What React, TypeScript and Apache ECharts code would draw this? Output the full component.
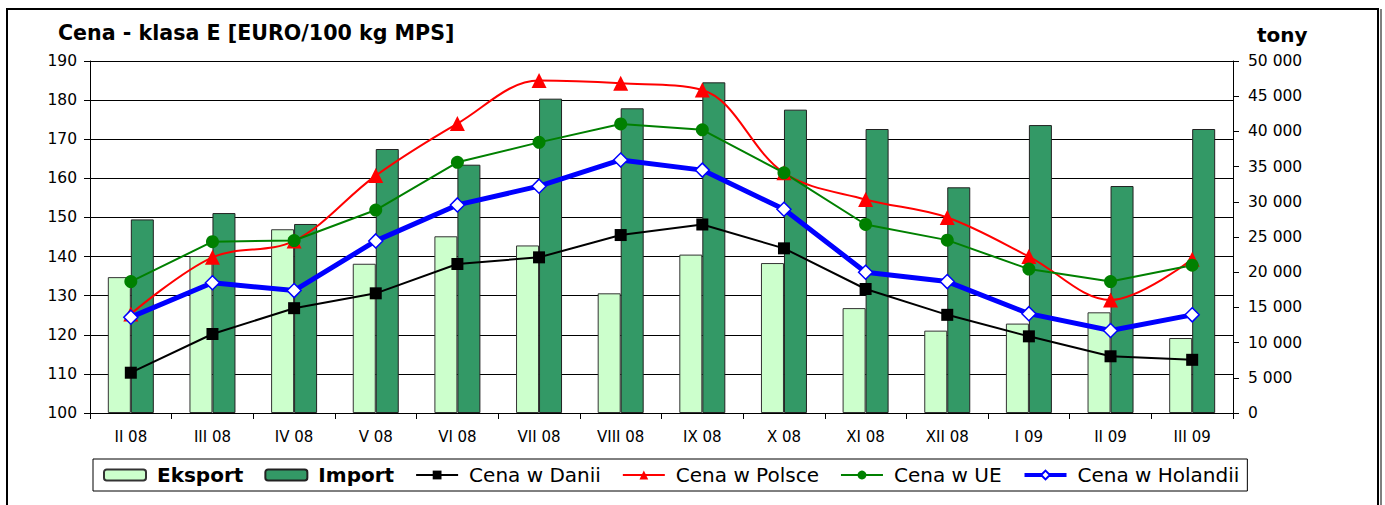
import React, { useEffect, useRef } from "react";
import * as echarts from "echarts";

const categories = ["II 08", "III 08", "IV 08", "V 08", "VI 08", "VII 08", "VIII 08", "IX 08", "X 08", "XI 08", "XII 08", "I 09", "II 09", "III 09"];
const eksport = [19300, 22300, 26100, 21200, 25100, 23800, 17000, 22500, 21300, 14900, 11700, 12700, 14300, 10650];
const importData = [27500, 28400, 26850, 37500, 35270, 44650, 43280, 46970, 43090, 40340, 32060, 40900, 32240, 40340];
const cenaDanii = [110.3, 120.2, 126.8, 130.6, 138.1, 139.8, 145.5, 148.2, 142.1, 131.7, 125.1, 119.6, 114.5, 113.6];
const cenaPolsce = [125.3, 139.8, 144.0, 160.7, 174.0, 185.0, 184.3, 182.6, 161.4, 154.6, 150.0, 140.0, 128.9, 139.3];
const cenaUE = [133.6, 143.8, 144.1, 151.9, 164.1, 169.2, 173.9, 172.4, 161.4, 148.2, 144.2, 136.8, 133.6, 137.8];
const cenaHolandii = [124.5, 133.3, 131.3, 144.0, 153.2, 158.0, 164.7, 162.1, 152.1, 136.0, 133.6, 125.4, 121.1, 125.1];

const FONT = "DejaVu Sans";

export default function App() {
  const ref = useRef<HTMLDivElement>(null);
  useEffect(() => {
    if (!ref.current) return;
    const chart = echarts.init(ref.current, undefined, { renderer: "svg" });
    const fmt = (v: number) => String(v).replace(/\B(?=(\d{3})+(?!\d))/g, " ");
    chart.setOption({
      animation: false,
      backgroundColor: "#fff",
      title: {
        text: "Cena - klasa E [EURO/100 kg MPS]",
        left: 58,
        top: 22,
        padding: 0,
        textStyle: { fontFamily: FONT, fontSize: 20.6, fontWeight: "bold", color: "#000" },
      },
      graphic: [
        { type: "rect", shape: { x: 7, y: 9, width: 1371, height: 520 }, style: { fill: "none", stroke: "#000", lineWidth: 2 }, silent: true },
        { type: "line", shape: { x1: 1381, y1: 9, x2: 1381, y2: 505 }, style: { stroke: "#000", lineWidth: 1 }, silent: true },
        { type: "text", left: 1257, top: 25, style: { text: "tony", fontFamily: FONT, fontSize: 20, fontWeight: "bold", fill: "#000" } },
      ],
      legend: {
        left: 93,
        top: 459,
        padding: [6, 8, 6, 10],
        borderColor: "#000",
        borderWidth: 1,
        itemWidth: 42,
        itemHeight: 11,
        itemGap: 21,
        textStyle: { fontFamily: FONT, fontSize: 20, color: "#000", padding: [0, 0, 0, 6] },
        data: [
          { name: "Eksport", textStyle: { fontWeight: "bold" } },
          { name: "Import", textStyle: { fontWeight: "bold" } },
          { name: "Cena w Danii", lineStyle: { width: 2 } },
          { name: "Cena w Polsce", lineStyle: { width: 2 } },
          { name: "Cena w UE", lineStyle: { width: 2 } },
          { name: "Cena w Holandii", lineStyle: { width: 4 } },
        ],
      },
      grid: { left: 90, right: 152, top: 61, bottom: 92, containLabel: false },
      xAxis: {
        type: "category",
        data: categories,
        boundaryGap: true,
        axisLine: { lineStyle: { color: "#000", width: 1 } },
        axisTick: { show: true, length: 6, lineStyle: { color: "#000" } },
        axisLabel: { fontFamily: FONT, fontSize: 15, color: "#000", margin: 16 },
      },
      yAxis: [
        {
          type: "value",
          min: 100,
          max: 190,
          interval: 10,
          position: "left",
          axisLine: { show: true, lineStyle: { color: "#000", width: 1 } },
          axisTick: { show: true, length: 6, lineStyle: { color: "#000" } },
          axisLabel: { fontFamily: FONT, fontSize: 15.5, color: "#000", margin: 13 },
          splitLine: { show: true, lineStyle: { color: "#000", width: 1 } },
        },
        {
          type: "value",
          min: 0,
          max: 50000,
          interval: 5000,
          position: "right",
          axisLine: { show: true, lineStyle: { color: "#000", width: 1 } },
          axisTick: { show: true, length: 6, lineStyle: { color: "#000" } },
          axisLabel: { fontFamily: FONT, fontSize: 15.5, color: "#000", margin: 15, formatter: fmt },
          splitLine: { show: false },
        },
      ],
      series: [
        {
          name: "Eksport",
          type: "bar",
          yAxisIndex: 1,
          data: eksport,
          barWidth: 23,
          barGap: "0%",
          itemStyle: { color: "#CCFFCC", borderColor: "#333", borderWidth: 1 },
        },
        {
          name: "Import",
          type: "bar",
          yAxisIndex: 1,
          data: importData,
          barWidth: 23,
          barGap: "0%",
          itemStyle: { color: "#339966", borderColor: "#222", borderWidth: 1 },
        },
        {
          name: "Cena w Danii",
          type: "line",
          data: cenaDanii,
          symbol: "rect",
          symbolSize: 12,
          lineStyle: { color: "#000", width: 2 },
          itemStyle: { color: "#000" },
        },
        {
          name: "Cena w Polsce",
          type: "line",
          data: cenaPolsce,
          smooth: 0.35,
          symbol: "triangle",
          symbolSize: 15,
          lineStyle: { color: "#FF0000", width: 2 },
          itemStyle: { color: "#FF0000" },
        },
        {
          name: "Cena w UE",
          type: "line",
          data: cenaUE,
          symbol: "circle",
          symbolSize: 13,
          lineStyle: { color: "#008000", width: 2 },
          itemStyle: { color: "#008000" },
        },
        {
          name: "Cena w Holandii",
          type: "line",
          data: cenaHolandii,
          symbol: "diamond",
          symbolSize: 14,
          lineStyle: { color: "#0000FF", width: 5 },
          itemStyle: { color: "#fff", borderColor: "#0000FF", borderWidth: 1.5 },
        },
      ],
    });
    return () => chart.dispose();
  }, []);
  return (
    <div
      ref={ref}
      style={{ position: "absolute", left: 0, top: 0, width: 1385, height: 505, background: "#fff" }}
    />
  );
}
